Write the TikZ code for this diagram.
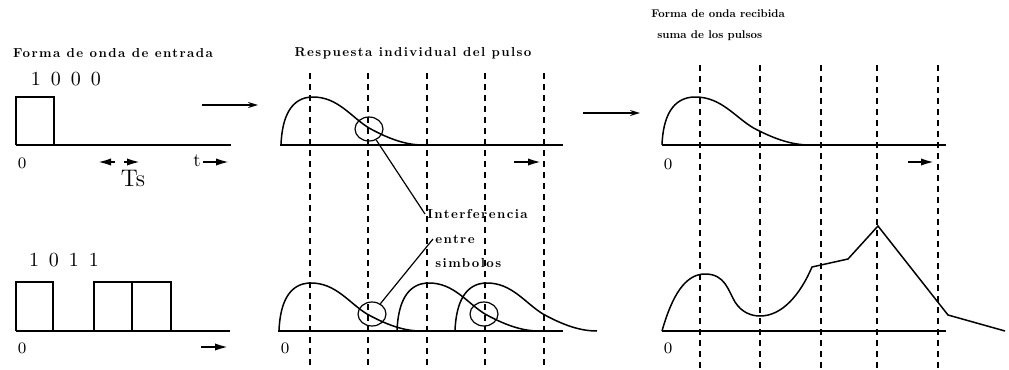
\documentclass[tikz,border=0pt]{standalone}
\usepackage{fontspec}
\usepackage{tikz}
\usetikzlibrary{arrows.meta,positioning,shapes.geometric}
\newfontfamily\spaced{lmroman10-bold.otf}[LetterSpace=11]
\newfontfamily\heavy{lmroman10-bold.otf}

\begin{document}
\begin{tikzpicture}[
  x=0.5pt, y=-0.5pt,
  axis/.style={line width=1pt},
  wave/.style={line width=0.75pt},
  grid/.style={line width=0.7pt, dash pattern=on 3pt off 2.5pt},
  ttl/.style={font=\spaced\fontsize{6.5}{7.5}\selectfont, inner sep=0pt},
  ttlr/.style={font=\heavy\fontsize{5.6}{6.5}\selectfont, inner sep=0pt, anchor=west},
  lbl/.style={font=\spaced\fontsize{6.5}{7.5}\selectfont, inner sep=1pt, anchor=west},
  bits/.style={font=\fontsize{10}{11}\selectfont, inner sep=0pt},
  cero/.style={font=\fontsize{8}{9}\selectfont, inner sep=0pt},
  isi/.style={draw, ellipse, line width=0.6pt, minimum width=14pt,
              minimum height=12pt, inner sep=0pt},
  lead/.style={line width=0.6pt},
  tip/.style={-{Latex[length=7pt, width=3.6pt]}, line width=1.2pt},
  feed/.style={-{Stealth[length=5pt, width=3pt]}, line width=0.7pt},
  pulso/.pic={
    \draw[wave] (0,0) .. controls (1,-28) and (10,-48) .. (32,-48)
      .. controls (57,-48) and (70,-28) .. (88,-17)
      .. controls (108,-6) and (125,0) .. (142,0);
  }
]
\useasboundingbox (0,0) rectangle (1009,370);

% titles
\node[ttl] (entrada) at (113,53) {Forma de onda de entrada};
\node[ttl] (respuesta) at (413,53) {Respuesta individual del pulso};
\node[ttlr] (recibida) at (651,14) {Forma de onda recibida};
\node[ttlr] (suma) at (657,36) {suma de los pulsos};

% sampling instants
\foreach \x in {310,368,427,485,544}
  \draw[grid] (\x,73) -- (\x,370);
\foreach \x in {700,760,821,877,938}
  \draw[grid] (\x,65) -- (\x,370);

% input waveforms
\node[bits] (bitsA) at (66,79) {1\enspace 0\enspace 0\enspace 0};
\draw[wave] (16,145) -- (16,97) -- (54,97) -- (54,145);
\draw[axis] (16,145) -- (231,145);
\node[cero] (o1) at (22,163) {0};
\draw[tip] (115,162) -- (97,162);
\draw[tip] (124,162) -- (141,162);
\node[font=\fontsize{12}{13}\selectfont, inner sep=0pt] (ts) at (133,178) {Ts};
\node[font=\fontsize{9.5}{10}\selectfont, inner sep=0pt] (tt) at (197,161) {t};
\draw[tip] (203,162) -- (230,162);

\node[bits] (bitsB) at (64,260) {1\enspace 0\enspace 1\enspace 1};
\draw[wave] (16,331) -- (16,282) -- (53,282) -- (53,331);
\draw[wave] (94,331) -- (94,282) -- (171,282) -- (171,331);
\draw[wave] (132,282) -- (132,331);
\draw[axis] (16,331) -- (230,331);
\node[cero] (o2) at (22,348) {0};
\draw[tip] (201,347) -- (229,347);

\draw[feed] (202,105) -- (258,105);
\draw[feed] (583,113) -- (640,113);

% single pulse response
\draw[axis] (280,145) -- (563,145);
\pic at (281,145) {pulso};
\draw[tip] (514,162) -- (542,162);

\draw[axis] (278,331) -- (563,331);
\foreach \s in {279,397,455}
  \pic at (\s,331) {pulso};
\node[cero] (o3) at (285,348) {0};

% intersymbol interference
\node[isi] (c1) at (369,129) {};
\node[isi] (c2) at (372,314) {};
\node[isi] (c3) at (484,314) {};
\node[lbl] (isi1) at (425,214) {Interferencia};
\node[lbl] (isi2) at (433,239) {entre};
\node[lbl] (isi3) at (433,263) {simbolos};
\draw[lead] (c1) -- (isi1.west);
\draw[lead] (c2) -- (isi2.west);

% received waveform
\draw[axis] (662,145) -- (946,145);
\pic[xscale=1.04] at (662,145) {pulso};
\node[cero] (o4) at (668,164) {0};
\draw[tip] (908,162) -- (935,162);

\draw[axis] (662,331) -- (946,331);
\draw[wave] (662,331) .. controls (672,296) and (685,274) .. (705,274)
  .. controls (725,274) and (728,290) .. (735,302)
  .. controls (742,313) and (752,316) .. (760,316)
  .. controls (782,316) and (800,295) .. (812,267)
  -- (848,259) -- (878,226) -- (948,315) -- (1005,331);
\node[cero] (o5) at (668,348) {0};
\end{tikzpicture}
\end{document}
